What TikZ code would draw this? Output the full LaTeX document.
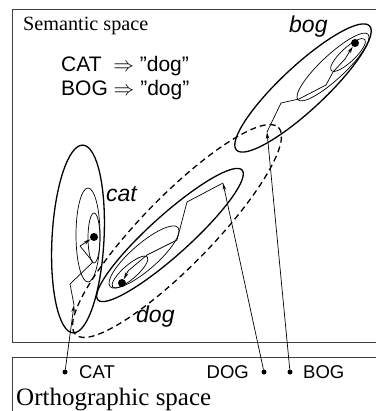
\documentclass[tikz,border=0pt]{standalone}
\usepackage{fontspec}
\setmainfont{Liberation Serif}
\setsansfont{Liberation Sans}
\usetikzlibrary{arrows.meta}
\begin{document}
\begin{tikzpicture}[x=1pt,y=-1pt,
  frame/.style={line width=0.9pt, draw=black!75},
  thick ell/.style={line width=1.3pt},
  thin ell/.style={line width=0.7pt},
  dashed ell/.style={line width=1.3pt, dash pattern=on 6pt off 4pt},
  traj/.style={line width=0.7pt},
  arr/.style={line width=0.7pt, -{Stealth[length=7pt,width=3.5pt]}},
  sdot/.style={circle, fill=black, inner sep=0pt, minimum size=5pt},
  adot/.style={circle, fill=black, inner sep=0pt, minimum size=8pt},
  serif/.style={font=\rmfamily\fontsize{#1pt}{#1pt}\selectfont, inner sep=0pt, anchor=base west},
  rule/.style={font=\sffamily\fontsize{21pt}{24pt}\selectfont, inner sep=0pt, anchor=base west},
  lab/.style={font=\sffamily\fontsize{18.5pt}{20pt}\selectfont, inner sep=0pt, anchor=base west},
  ital/.style={font=\sffamily\itshape\fontsize{23pt}{26pt}\selectfont, inner sep=0pt, anchor=base west}
]
\useasboundingbox (0,0) rectangle (375,411);
% frames
\draw[frame] (380,9) -- (12,9) -- (12,342) -- (380,342);
\draw[frame] (380,357) -- (12,357) -- (12,415);
% titles
\node[serif=20.2] (sem) at (23,31) {Semantic space};
\node[serif=25] (orth) at (16,405) {Orthographic space};
\node[rule] (r1) at (61,72) {CAT~~$\Rightarrow$ "dog"};
\node[rule] (r2) at (61,96) {BOG $\Rightarrow$ "dog"};
% region labels
\node[ital] (bogl) at (289,33) {bog};
\node[ital] (catl) at (106,201) {cat};
\node[ital] (dogl) at (136,322) {dog};
% cat attractor
\draw[thick ell, rotate around={-3:(78,239)}] (78,239) ellipse [x radius=26, y radius=94];
\draw[thin ell] (88,235) ellipse [x radius=12, y radius=47];
\draw[thin ell] (94,238) ellipse [x radius=6, y radius=25];
% dog attractor
\draw[thick ell, rotate around={42:(170,235)}] (170,235) ellipse [x radius=97, y radius=20];
\draw[thin ell, rotate around={41:(144,257)}] (144,257) ellipse [x radius=45, y radius=13];
\draw[thin ell, rotate around={41:(130,272)}] (130,272) ellipse [x radius=23, y radius=7];
% bog attractor
\draw[thick ell, rotate around={43:(303,88)}] (303,88) ellipse [x radius=91, y radius=22];
\draw[thin ell, rotate around={43:(333,67)}] (333,67) ellipse [x radius=48, y radius=12];
\draw[thin ell, rotate around={43:(348,55)}] (348,55) ellipse [x radius=23, y radius=7];
% dashed
\draw[dashed ell, rotate around={45.6:(177,231)}] (177,231) ellipse [x radius=145, y radius=35];
% dots
\node[sdot] (catd) at (65,372) {};
\node[sdot] (dogd) at (264,372) {};
\node[sdot] (bogd) at (290,372) {};
\node[lab] (catt) at (79,378) {CAT};
\node[lab, anchor=base east] (dogt) at (249,378) {DOG};
\node[lab] (bogt) at (303,378) {BOG};
\node[adot] (cata) at (94,237) {};
\node[adot] (doga) at (122,283) {};
\node[adot] (boga) at (355,43) {};
% initial states
\coordinate (c0) at (74,305);
\coordinate (d0) at (223,183);
\coordinate (b0) at (267,132);
\draw[arr] (catd) -- (c0);
\draw[arr] (dogd) -- (d0);
\draw[arr] (bogd) -- (b0);
% trajectories
\coordinate (c1) at (70,284); \coordinate (c2) at (93,262); \coordinate (c3) at (80,246);
\draw[traj] (c0) -- (c1) -- (c2) -- (c3);
\draw[arr] (c3) -- (cata);
\coordinate (d1) at (187,202); \coordinate (d2) at (177,240); \coordinate (d3) at (147,255); \coordinate (d4) at (128,271);
\draw[traj] (d0) -- (d1) -- (d2) -- (d3) -- (d4);
\draw[arr] (d4) -- (doga);
\coordinate (b1) at (281,103); \coordinate (b2) at (299,99); \coordinate (b3) at (326,85); \coordinate (b4) at (333,72); \coordinate (b5) at (345,59);
\draw[traj] (b0) -- (b1) -- (b2) -- (b3) -- (b4) -- (b5);
\draw[arr] (b5) -- (boga);
\end{tikzpicture}
\end{document}
